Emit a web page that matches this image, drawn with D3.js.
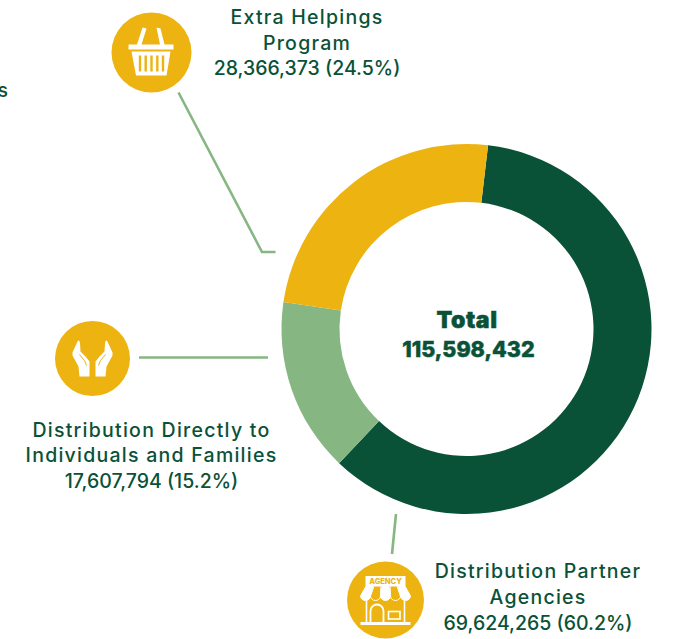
<!DOCTYPE html>
<html lang="en">

<head>
    <meta charset="UTF-8">
    <script src="https://cdnjs.cloudflare.com/ajax/libs/d3/7.8.5/d3.min.js"></script>
    <title>Distribution</title>
    <style>
        html, body { margin: 0; padding: 0; background: #fff; overflow: hidden; }
        text { font-family: "Inter", sans-serif; fill: #0a5237; }
    </style>
</head>

<body>
    <div id="plot"></div>
</body>

<script>
    // slices in drawing order, clockwise
    const categories = ["Distribution Partner Agencies", "Distribution Directly to Individuals and Families", "Extra Helpings Program"];
    const pounds = [69624265, 17607794, 28366373];
    const percents = [60.2, 15.2, 24.5];
    const sliceColors = ["#0a5237", "#86b681", "#edb311"];
    const totalLabel = "115,598,432";

    const width = 673, height = 639;
    const cx = 466.5, cy = 329, outer = 185, inner = 127;
    const gold = "#edb311", lineColor = "#86b681";
    // the ring does not start at 12 o'clock
    const startAngle = 6.7 * Math.PI / 180;

    const svg = d3.select("#plot").append("svg")
        .attr("width", width)
        .attr("height", height);

    // (1) ring
    const pie = d3.pie().sort(null).value(d => d)
        .startAngle(startAngle)
        .endAngle(startAngle + 2 * Math.PI);
    const arc = d3.arc().innerRadius(inner).outerRadius(outer);
    svg.append("g")
        .attr("transform", `translate(${cx},${cy})`)
        .selectAll("path")
        .data(pie(pounds))
        .enter()
        .append("path")
        .attr("d", arc)
        .attr("fill", (d, i) => sliceColors[i]);

    // (2) centre text
    svg.append("text").attr("x", 467).attr("y", 328).attr("text-anchor", "middle")
        .style("font-size", "23px").style("font-weight", 900).style("letter-spacing", "0.6px")
        .style("stroke", "#0a5237").style("stroke-width", 0.5).text("Total");
    svg.append("text").attr("x", 468.5).attr("y", 357).attr("text-anchor", "middle")
        .style("font-size", "21.5px").style("font-weight", 800)
        .style("stroke", "#0a5237").style("stroke-width", 0.5).text(totalLabel);

    // (3) leader lines
    const line = d3.line();
    const leaders = [
        [[178.5, 92.5], [262, 252], [275.5, 252]],
        [[139, 357.5], [268, 357.5]],
        [[396, 514], [392, 554]]
    ];
    svg.append("g").selectAll("path").data(leaders).enter().append("path")
        .attr("d", line)
        .attr("fill", "none")
        .attr("stroke", lineColor)
        .attr("stroke-width", 2.6);

    // (4) labels, name rows are spaced wider than the figure rows
    function label(x, rows) {
        rows.forEach((r, i) => {
            svg.append("text").attr("x", x).attr("y", r[0]).attr("text-anchor", "middle")
                .style("font-size", "19.5px").style("font-weight", 500)
                .style("letter-spacing", i < rows.length - 1 ? "1.25px" : "0")
                .text(r[1]);
        });
    }
    const fmt = i => `${d3.format(",")(pounds[i])} (${percents[i]}%)`;
    label(307, [[24, "Extra Helpings"], [50, "Program"], [75, fmt(2)]]);
    label(151.5, [[437, "Distribution Directly to"], [462, "Individuals and Families"], [488, fmt(1)]]);
    label(538, [[578, "Distribution Partner"], [604, "Agencies"], [630, fmt(0)]]);
    // clipped end of a label running off the left edge
    svg.append("text").attr("x", 8).attr("y", 97).attr("text-anchor", "end")
        .style("font-size", "19.5px").style("font-weight", 500).text("s");

    // (5) icons
    function badge(x, y, r) {
        const g = svg.append("g").attr("transform", `translate(${x},${y})`);
        g.append("circle").attr("r", r).attr("fill", gold);
        return g;
    }

    // basket
    const basket = badge(151.5, 52.5, 40);
    basket.append("path").attr("fill", "#fff")
        .attr("d", "M-9,-25 L-5,-24 L-10,-8 L-14.5,-8 Z M5,-25 L9,-24 L13,-8 L8.5,-8 Z M-23,-8 H22 V-3 H-23 Z M-20,-1 H19 L15,23 H-15.5 Z");
    basket.selectAll("rect").data([-11.5, -5.8, 0, 5.8, 11.5]).enter().append("rect")
        .attr("x", d => d - 1.2).attr("y", 3).attr("width", 2.4).attr("height", 16)
        .attr("fill", gold);

    // hands, the right one is the left one mirrored
    const hands = badge(92.5, 358.5, 37.5);
    [1, -1].forEach(s => {
        const h = hands.append("g").attr("transform", `scale(${s},1)`);
        h.append("path").attr("fill", "#fff")
            .attr("d", "M-15,-17 Q-13,-20 -12.5,-15 L-12,-7 L-7,-2 L-3,3 L-3,18 L-13,18 L-14,8 L-20,-3 L-20,-6 Z");
        h.append("path").attr("fill", "none").attr("stroke", gold).attr("stroke-width", 1)
            .attr("d", "M-13,-4 L-8,2 L-6,7");
    });

    // shop
    const shop = badge(385.5, 600, 38.5);
    shop.append("rect").attr("x", -20).attr("y", -24).attr("width", 40).attr("height", 10).attr("fill", "#fff");
    shop.append("text").attr("x", 0).attr("y", -16).attr("text-anchor", "middle")
        .style("font-size", "7.5px").style("font-weight", 800).style("fill", gold).text("AGENCY");
    // awning stripes
    shop.selectAll(".awn").data([-20, -10, 0, 10, 20]).enter().append("path")
        .attr("fill", (d, i) => i % 2 ? gold : "#fff")
        .attr("stroke", "#fff").attr("stroke-width", 1)
        .attr("d", d => `M${d * 0.8 - 3.4},-14 L${d - 5},-4 A5,4.5 0 0 0 ${d + 5},-4 L${d * 0.8 + 3.4},-14 Z`);
    shop.append("path").attr("fill", "none").attr("stroke", "#fff").attr("stroke-width", 1.6)
        .attr("d", "M-19,1 V23 M19,1 V23");
    shop.append("rect").attr("x", -25).attr("y", 22).attr("width", 50).attr("height", 3).attr("fill", "#fff");
    shop.append("path").attr("fill", "none").attr("stroke", "#fff").attr("stroke-width", 1.8)
        .attr("d", "M-15,23 V11 A6.5,6.5 0 0 1 -2,11 V23");
    shop.append("rect").attr("x", 3).attr("y", 11.5).attr("width", 11.5).attr("height", 7.5)
        .attr("fill", "none").attr("stroke", "#fff").attr("stroke-width", 1.6);
</script>

</html>
